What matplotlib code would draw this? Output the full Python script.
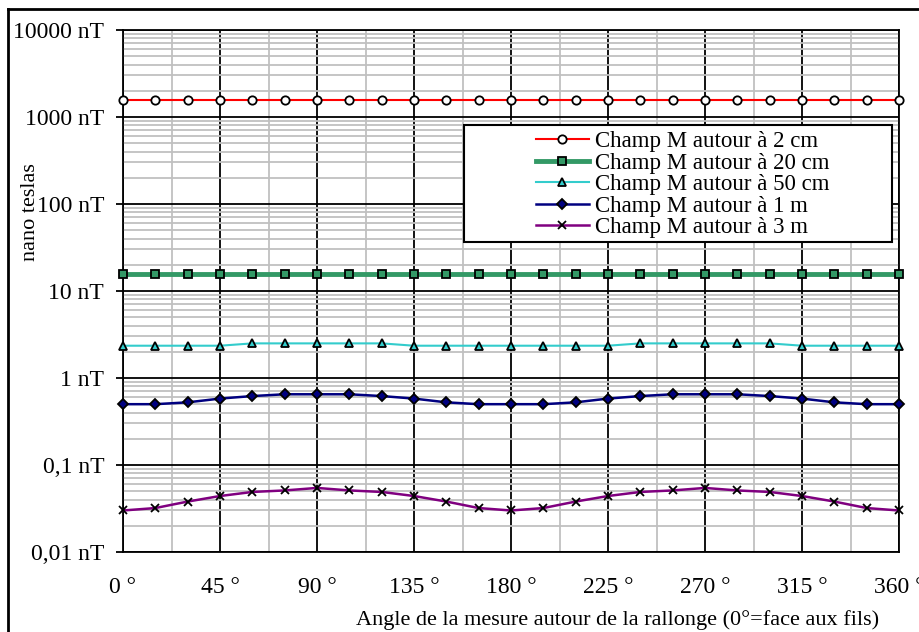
import matplotlib
matplotlib.use("Agg")
import matplotlib.pyplot as plt
from matplotlib.lines import Line2D
from matplotlib.patches import Rectangle
from matplotlib.ticker import FixedLocator, FuncFormatter

plt.rcParams["font.family"] = ["Liberation Serif", "DejaVu Serif"]

# angles (degrees), one reading every 15 degrees
angles = [0, 15, 30, 45, 60, 75, 90, 105, 120, 135, 150, 165, 180,
          195, 210, 225, 240, 255, 270, 285, 300, 315, 330, 345, 360]

# field values in nT
champ_2cm = [1550] * 25
champ_20cm = [15.5] * 25
champ_50cm = [2.35, 2.35, 2.35, 2.35, 2.5, 2.5, 2.5, 2.5, 2.5, 2.35, 2.35, 2.35, 2.35,
              2.35, 2.35, 2.35, 2.5, 2.5, 2.5, 2.5, 2.5, 2.35, 2.35, 2.35, 2.35]
champ_1m = [0.5, 0.5, 0.525, 0.58, 0.62, 0.65, 0.65, 0.65, 0.62, 0.58, 0.525, 0.5, 0.5,
            0.5, 0.525, 0.58, 0.62, 0.65, 0.65, 0.65, 0.62, 0.58, 0.525, 0.5, 0.5]
champ_3m = [0.030, 0.032, 0.038, 0.044, 0.049, 0.051, 0.0545, 0.051, 0.049, 0.044, 0.038, 0.032, 0.030,
            0.032, 0.038, 0.044, 0.049, 0.051, 0.0545, 0.051, 0.049, 0.044, 0.038, 0.032, 0.030]

labels = ["Champ M autour à 2 cm", "Champ M autour à 20 cm", "Champ M autour à 50 cm",
          "Champ M autour à 1 m", "Champ M autour à 3 m"]

x_ticks = [0, 45, 90, 135, 180, 225, 270, 315, 360]
y_ticks = [0.01, 0.1, 1, 10, 100, 1000, 10000]
y_tick_labels = ["0,01 nT", "0,1 nT", "1 nT", "10 nT", "100 nT", "1000 nT", "10000 nT"]

fig = plt.figure(figsize=(9.2, 6.32), dpi=100)
fig.patch.set_facecolor("white")
ax = fig.add_axes([123 / 920, 1 - 552 / 632, 776 / 920, 522 / 632])

# series: (values, colour, width, marker, face)
series = [
    (champ_2cm, "#ff0000", 1.5, "o", "white"),
    (champ_20cm, "#339966", 3.5, "s", "#339966"),
    (champ_50cm, "#33cccc", 1.5, "^", "#33cccc"),
    (champ_1m, "#000080", 1.8, "D", "#000080"),
    (champ_3m, "#800080", 1.8, "x", "black"),
]

handles = []
for (vals, col, lw, mk, face), lab in zip(series, labels):
    ms = 6 if mk != "D" else 5
    ln, = ax.plot(angles, vals, color=col, lw=lw, marker=mk, ms=ms,
                  markerfacecolor=face, markeredgecolor="black", markeredgewidth=1.3,
                  clip_on=False, zorder=5, label=lab)
    handles.append(ln)

ax.set_yscale("log")
ax.set_ylim(0.01, 10000)
ax.set_xlim(0, 360)

# grid
ax.xaxis.set_major_locator(FixedLocator(x_ticks))
ax.xaxis.set_minor_locator(FixedLocator([22.5 + 45 * i for i in range(8)]))
ax.yaxis.set_major_locator(FixedLocator(y_ticks))
ax.yaxis.set_major_formatter(FuncFormatter(lambda v, p: y_tick_labels[y_ticks.index(v)] if v in y_ticks else ""))
ax.xaxis.set_major_formatter(FuncFormatter(lambda v, p: f"{int(v)} °"))
ax.grid(True, which="minor", color="#c0c0c0", lw=1.3, zorder=1)
ax.grid(True, which="major", color="black", lw=1.3, zorder=2)
ax.set_axisbelow(True)
ax.tick_params(axis="y", which="major", length=5, width=1.3, pad=8.5, labelsize=17)
ax.tick_params(axis="y", which="minor", length=0)
ax.tick_params(axis="x", which="both", length=0, pad=18, labelsize=17)
for s in ax.spines.values():
    s.set_color("black")
    s.set_linewidth(1.3)

ax.set_ylabel("nano teslas", fontsize=16)
ax.yaxis.set_label_coords(-0.107, 0.652)
ax.set_xlabel("Angle de la mesure autour de la rallonge (0°=face aux fils)", fontsize=16)
ax.xaxis.set_label_coords(0.637, -0.112)

# legend box
ax.add_patch(Rectangle((0.4394, 0.594), 0.5516, 0.224, transform=ax.transAxes,
                       facecolor="white", edgecolor="black", lw=1.5, zorder=8))
leg = ax.legend(handles=handles, loc="upper left", bbox_to_anchor=(0.532, 0.806),
                frameon=False, fontsize=16.5, handlelength=2.3, handletextpad=0.3,
                labelspacing=0.02, borderpad=0, borderaxespad=0)
leg.set_zorder(9)

# outer frame
fig.add_artist(Line2D([8 / 920, 1], [1 - 8.5 / 632, 1 - 8.5 / 632], color="black", lw=2, transform=fig.transFigure))
fig.add_artist(Line2D([8 / 920, 8 / 920], [0, 1 - 8.5 / 632], color="black", lw=2, transform=fig.transFigure))

fig.savefig("out.png", dpi=100, facecolor="white")
